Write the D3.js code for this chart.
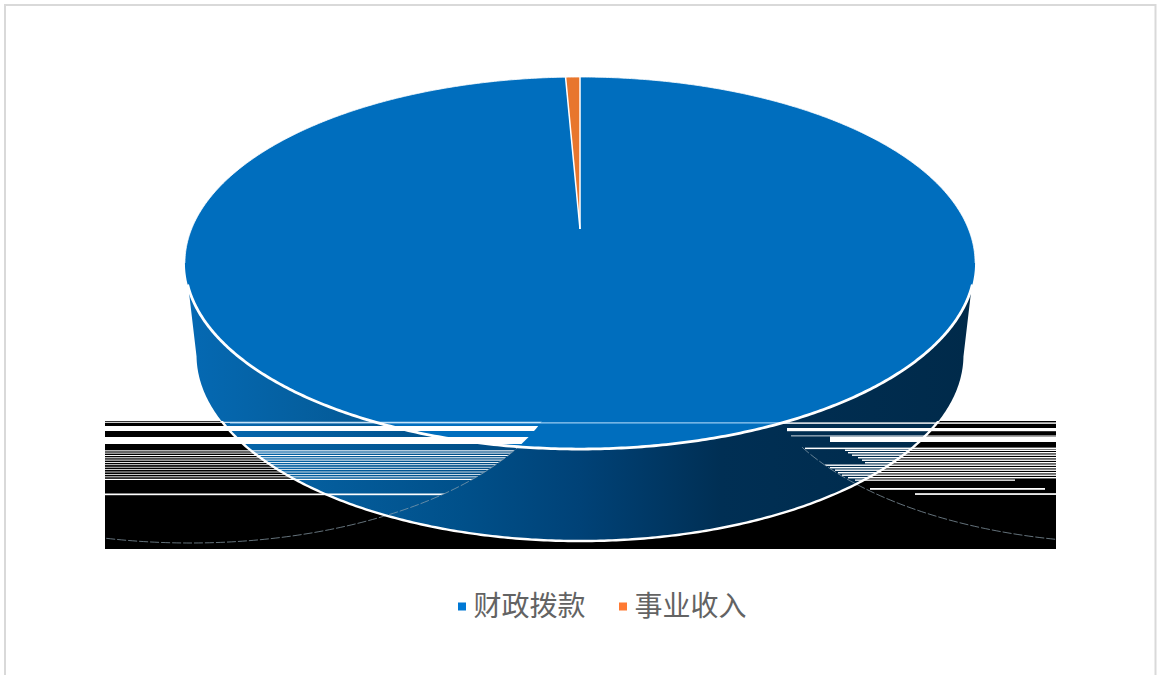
<!DOCTYPE html>
<html>
<head>
<meta charset="utf-8">
<script src="https://cdn.jsdelivr.net/npm/d3@7"></script>
<style>
  html, body { margin: 0; padding: 0; background: #fff; overflow: hidden; }
  text { font-family: "Noto Sans CJK SC", sans-serif; }
</style>
</head>
<body>
<div id="vis"></div>
<script>
// Chart data
const categories = ["财政拨款", "事业收入"];
const values = [99.3, 0.7];
const sliceColors = ["#006ebe", "#e8762d"];
const legendColors = ["#0078d4", "#ff7a33"];

// The reference has a broken bitmap band across the bottom of the pie:
// rows of [y, height] on the left, [y, height, xStart, xEnd] on the right
const leftRows = [
  [421.8, 1], [426, 5], [437, 7], [450.3, 1.1], [452.6, 1], [455, 1], [457.3, 1],
  [459.6, 1], [462, 0.9], [464.3, 0.8], [466.8, 0.8], [469.2, 0.8], [471.6, 0.8],
  [474, 0.8], [476.4, 0.9], [478.8, 1.2], [493.5, 1.7]
];
const rightRows = [
  [422.4, 1.4, 580, 1056], [428, 3.2, 787, 1056], [435.5, 0.8, 791, 1056], [436.5, 5.5, 830, 1056],
  [447.6, 1.5, 805, 1056], [449.6, 1.4, 845, 1056], [452, 1.4, 848, 1056], [454.5, 1.4, 852, 1056],
  [457, 1.4, 858, 1056], [459.5, 1.4, 862, 1056], [462, 1.4, 865, 1056], [464.5, 1.4, 825, 1056],
  [467, 1.4, 830, 1056], [469.5, 1.4, 835, 1056], [472, 1.4, 838, 1056], [474.5, 1.4, 842, 1056],
  [477, 1.4, 848, 1056], [479.5, 1.3, 855, 1015], [488, 1.8, 870, 1045], [493.2, 1.7, 915, 1056]
];

const width = 1157, height = 675;

// Pie is a circle seen in perspective, apex sits above the centre of the ellipse
const cx = 580, apexY = 229;
const persp = 0.1829;
const topA = 388.4, topB = 179.8;
const botA = 377, botOffset = 92;

function project(angle, a, dy) {
  const u = Math.sin(angle), v = -Math.cos(angle);
  const w = 1 - persp * v;
  return [cx + a * u / w, apexY + dy + topB * v / w];
}

const line = d3.line();
const angleSteps = d3.range(0, 721).map((i) => (i / 720) * 2 * Math.PI);
const topRim = angleSteps.map((t) => project(t, topA, 0));
const botRim = angleSteps.map((t) => project(t, botA, botOffset));

const svg = d3.select("#vis")
  .append("svg")
  .attr("width", width)
  .attr("height", height);

const defs = svg.append("defs");

const grad = defs.append("linearGradient")
  .attr("id", "wall")
  .attr("gradientUnits", "userSpaceOnUse")
  .attr("x1", 187).attr("x2", 973).attr("y1", 0).attr("y2", 0);
[[0, "#0569b3"], [0.15, "#055f9f"], [0.35, "#00508a"], [0.5, "#004277"], [0.68, "#002f54"], [1, "#002a4a"]]
  .forEach((s) => grad.append("stop").attr("offset", s[0]).attr("stop-color", s[1]));

// Phantom ellipses that bound the broken rows
const phantomL = { cx: 190, cy: 357, rx: 375, ry: 186 };
const phantomR = { cx: 1130, cy: 357, rx: 375, ry: 186 };

function addEllipseClip(id, e) {
  defs.append("clipPath").attr("id", id)
    .append("ellipse")
    .attr("cx", e.cx).attr("cy", e.cy).attr("rx", e.rx).attr("ry", e.ry);
}
addEllipseClip("clipL", phantomL);
addEllipseClip("clipR", phantomR);

defs.append("clipPath").attr("id", "band")
  .append("rect").attr("x", 105).attr("y", 447).attr("width", 951).attr("height", 102);
defs.append("clipPath").attr("id", "rimBand")
  .append("rect").attr("x", 0).attr("y", 421).attr("width", width).attr("height", 254);

// Frame
svg.append("rect")
  .attr("x", 5).attr("y", 5)
  .attr("width", 1150.5).attr("height", 690)
  .attr("fill", "#fff")
  .attr("stroke", "#d9d9d9")
  .attr("stroke-width", 2);

// Black band
svg.append("rect")
  .attr("x", 105).attr("y", 421)
  .attr("width", 951).attr("height", 128)
  .attr("fill", "#000");

// Side wall
const wallTop = topRim.filter((p) => p[1] >= 287);
const wallBot = botRim.filter((p) => p[1] >= 355);
const leftTop = wallTop[wallTop.length - 1], rightTop = wallTop[0];
const botSorted = wallBot.slice().sort((a, b) => a[0] - b[0]);
svg.append("path")
  .attr("d", line([leftTop, ...botSorted, rightTop]) + "Z")
  .attr("fill", "url(#wall)");

// Top face
const pie = d3.pie().sort(null);
const slices = pie(values);

svg.append("g").selectAll("path")
  .data(slices)
  .enter()
  .append("path")
  .attr("d", (d) => {
    const n = Math.max(2, Math.ceil((d.endAngle - d.startAngle) * 120));
    const pts = d3.range(n + 1).map((i) =>
      project(d.startAngle + (i / n) * (d.endAngle - d.startAngle), topA, 0));
    return line([[cx, apexY], ...pts]) + "Z";
  })
  .attr("fill", (d, i) => sliceColors[i]);

// Slice separators
svg.append("g").selectAll("line")
  .data(slices)
  .enter()
  .append("line")
  .attr("x1", cx).attr("y1", apexY)
  .attr("x2", (d) => project(d.startAngle, topA, 0)[0])
  .attr("y2", (d) => project(d.startAngle, topA, 0)[1])
  .attr("stroke", "#fff")
  .attr("stroke-width", 1.5);

// Broken rows
svg.append("g").attr("clip-path", "url(#clipL)")
  .selectAll("rect")
  .data(leftRows)
  .enter()
  .append("rect")
  .attr("x", 105)
  .attr("y", (d) => d[0])
  .attr("width", 560)
  .attr("height", (d) => d[1])
  .attr("fill", "#fff");

svg.append("g").attr("clip-path", "url(#clipR)")
  .selectAll("rect")
  .data(rightRows)
  .enter()
  .append("rect")
  .attr("x", (d) => d[2])
  .attr("y", (d) => d[0])
  .attr("width", (d) => d[3] - d[2])
  .attr("height", (d) => d[1])
  .attr("fill", "#fff");

// Thin line of the band across the top face
svg.append("rect")
  .attr("x", 230).attr("y", 422.4)
  .attr("width", 560).attr("height", 1)
  .attr("fill", "#bfe3ff");

// Dashed edge of the phantom ellipses
svg.append("g").attr("clip-path", "url(#band)")
  .selectAll("ellipse")
  .data([phantomL, phantomR])
  .enter()
  .append("ellipse")
  .attr("cx", (d) => d.cx).attr("cy", (d) => d.cy)
  .attr("rx", (d) => d.rx).attr("ry", (d) => d.ry)
  .attr("fill", "none")
  .attr("stroke", "#8fa3b0")
  .attr("stroke-width", 0.7)
  .attr("stroke-dasharray", "9 2");

// Rims
const frontRim = topRim.filter((p) => p[1] >= 284);
const frontSorted = frontRim.slice().sort((a, b) => a[0] - b[0]);
svg.append("path")
  .attr("d", line(frontSorted))
  .attr("fill", "none")
  .attr("stroke", "#fff")
  .attr("stroke-width", 2.8);

svg.append("path")
  .attr("d", line(topRim.filter((p) => p[1] < 263).sort((a, b) => a[0] - b[0])))
  .attr("fill", "none")
  .attr("stroke", "#fff")
  .attr("stroke-width", 0.8);

svg.append("path")
  .attr("clip-path", "url(#rimBand)")
  .attr("d", line(botSorted))
  .attr("fill", "none")
  .attr("stroke", "#fff")
  .attr("stroke-width", 2.4);

// Legend
const legendX = [458, 619];
const legend = svg.append("g").selectAll("g")
  .data(categories)
  .enter()
  .append("g")
  .attr("transform", (d, i) => `translate(${legendX[i]},0)`);

legend.append("rect")
  .attr("x", 0).attr("y", 602.5)
  .attr("width", 8).attr("height", 8)
  .attr("fill", (d, i) => legendColors[i]);

legend.append("text")
  .attr("x", 15.5)
  .attr("y", 616)
  .attr("font-size", 28)
  .attr("fill", "#636363")
  .text((d) => d);
</script>
</body>
</html>
